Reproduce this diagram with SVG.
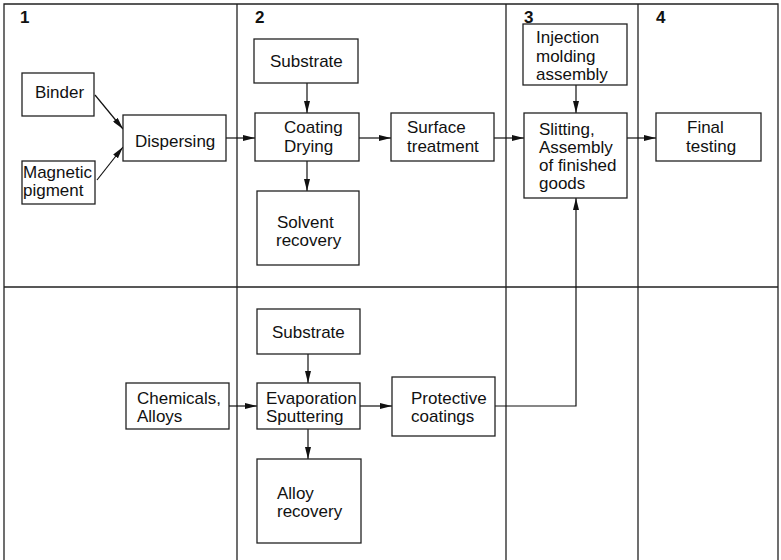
<svg xmlns="http://www.w3.org/2000/svg" width="781" height="560" viewBox="0 0 781 560">
<defs>
<marker id="ah" viewBox="0 0 12 6" refX="12" refY="3" markerWidth="12" markerHeight="6" markerUnits="userSpaceOnUse" orient="auto">
<path d="M0,0 L12,3 L0,6 Z" fill="#111"/>
</marker>
</defs>
<style>
.frame{fill:none;stroke:#222;stroke-width:1.3}
.box{fill:#fff;stroke:#222;stroke-width:1.3}
.t{font-family:"Liberation Sans",Arial,sans-serif;font-size:17px;fill:#111}
.num{font-family:"Liberation Sans",Arial,sans-serif;font-size:17px;font-weight:bold;fill:#111}
.c{fill:none;stroke:#111;stroke-width:1.2;marker-end:url(#ah)}
</style>
<rect width="781" height="560" fill="#fff"/>
<g id="frame">
<path class="frame" d="M4,562 V4 H778 V562"/>
<path class="frame" d="M4,287 H778 M237,4 V562 M506,4 V562 M638,4 V562"/>
<text class="num" x="20" y="23">1</text>
<text class="num" x="255" y="23">2</text>
<text class="num" x="524" y="23">3</text>
<text class="num" x="656" y="23">4</text>
</g>
<g id="connectors">
<path class="c" d="M95,95 L123,129"/>
<path class="c" d="M97,180 L123,147"/>
<path class="c" d="M226,138 H255"/>
<path class="c" d="M307,83 V113"/>
<path class="c" d="M307,161 V191"/>
<path class="c" d="M359,138 H391"/>
<path class="c" d="M494,138 H524"/>
<path class="c" d="M576,85 V113"/>
<path class="c" d="M627,138 H656"/>
<path class="c" d="M229,406 H257"/>
<path class="c" d="M308,354 V383"/>
<path class="c" d="M308,429 V459"/>
<path class="c" d="M360,406 H392"/>
<path class="c" d="M495,406 H576 V198"/>
</g>
<g id="binder"><rect class="box" x="22" y="73" width="72" height="43"/><text class="t" x="35" y="98">Binder</text></g>
<g id="magnetic"><rect class="box" x="22" y="161" width="73" height="43"/><text class="t" x="23" y="178">Magnetic</text><text class="t" x="23" y="196">pigment</text></g>
<g id="dispersing"><rect class="box" x="123" y="115" width="103" height="46"/><text class="t" x="135" y="147">Dispersing</text></g>
<g id="substrate1"><rect class="box" x="254" y="39" width="104" height="44"/><text class="t" x="270" y="67">Substrate</text></g>
<g id="coating"><rect class="box" x="255" y="113" width="104" height="48"/><text class="t" x="284" y="133">Coating</text><text class="t" x="284" y="152">Drying</text></g>
<g id="solvent"><rect class="box" x="257" y="191" width="102" height="74"/><text class="t" x="277" y="228">Solvent</text><text class="t" x="276" y="246">recovery</text></g>
<g id="surface"><rect class="box" x="391" y="113" width="103" height="48"/><text class="t" x="407" y="133">Surface</text><text class="t" x="407" y="152">treatment</text></g>
<g id="injection"><rect class="box" x="523" y="24" width="104" height="61"/><text class="t" x="536" y="43">Injection</text><text class="t" x="536" y="62">molding</text><text class="t" x="536" y="80">assembly</text></g>
<g id="slitting"><rect class="box" x="524" y="113" width="103" height="85"/><text class="t" x="539" y="135">Slitting,</text><text class="t" x="539" y="153">Assembly</text><text class="t" x="539" y="171">of finished</text><text class="t" x="539" y="189">goods</text></g>
<g id="final"><rect class="box" x="656" y="113" width="105" height="48"/><text class="t" x="687" y="133">Final</text><text class="t" x="686" y="152">testing</text></g>
<g id="chemicals"><rect class="box" x="126" y="383" width="103" height="46"/><text class="t" x="137" y="404">Chemicals,</text><text class="t" x="137" y="422">Alloys</text></g>
<g id="substrate2"><rect class="box" x="257" y="309" width="103" height="45"/><text class="t" x="272" y="338">Substrate</text></g>
<g id="evaporation"><rect class="box" x="257" y="383" width="103" height="46"/><text class="t" x="266" y="404">Evaporation</text><text class="t" x="266" y="422">Sputtering</text></g>
<g id="protective"><rect class="box" x="392" y="377" width="103" height="59"/><text class="t" x="411" y="404">Protective</text><text class="t" x="411" y="422">coatings</text></g>
<g id="alloy"><rect class="box" x="257" y="459" width="104" height="84"/><text class="t" x="277" y="499">Alloy</text><text class="t" x="277" y="517">recovery</text></g>
</svg>
